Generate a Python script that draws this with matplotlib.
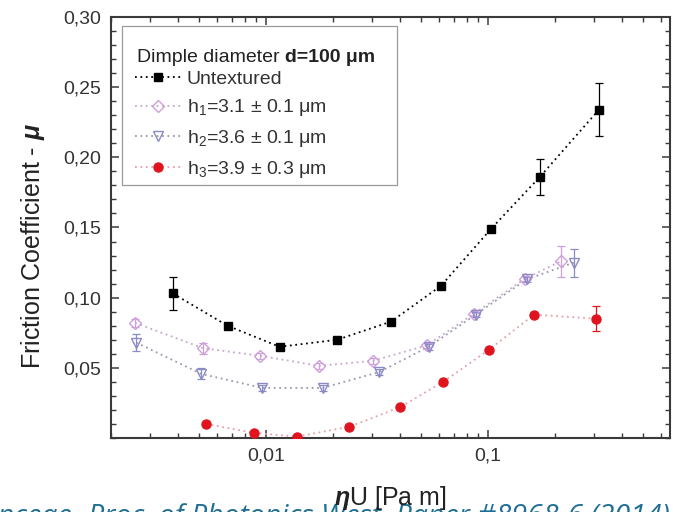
import matplotlib
matplotlib.use("Agg")
import matplotlib.pyplot as plt
from matplotlib.ticker import FixedLocator, FuncFormatter, LogLocator, NullFormatter, MultipleLocator
from matplotlib.lines import Line2D
from matplotlib.patches import Rectangle

# data
x_untex = [0.0038, 0.0067, 0.0115, 0.0209, 0.0366, 0.0614, 0.103, 0.171, 0.316]
mu_untex = [0.103, 0.080, 0.065, 0.070, 0.083, 0.1085, 0.149, 0.186, 0.234]
err_untex = [0.012, 0.002, 0.002, 0.002, 0.002, 0.002, 0.002, 0.013, 0.019]

x_h1 = [0.00257, 0.0052, 0.0094, 0.0173, 0.0303, 0.053, 0.0864, 0.147, 0.213]
mu_h1 = [0.082, 0.064, 0.0586, 0.0514, 0.055, 0.066, 0.0886, 0.1136, 0.126]
err_h1 = [0.003, 0.004, 0.002, 0.002, 0.002, 0.002, 0.002, 0.002, 0.011]

x_h2 = [0.0026, 0.0051, 0.0096, 0.018, 0.0323, 0.054, 0.088, 0.149, 0.244]
mu_h2 = [0.068, 0.0457, 0.0357, 0.0357, 0.047, 0.065, 0.088, 0.113, 0.125]
err_h2 = [0.006, 0.004, 0.002, 0.002, 0.002, 0.002, 0.002, 0.002, 0.010]

x_h3 = [0.00537, 0.00883, 0.0138, 0.0237, 0.0402, 0.0627, 0.101, 0.161, 0.306]
mu_h3 = [0.010, 0.0036, 0.001, 0.008, 0.022, 0.040, 0.0629, 0.0879, 0.085]
err_h3 = [0, 0, 0, 0, 0, 0, 0, 0, 0.009]

labels = ["Untextured",
          r"h$_1$=3.1 ± 0.1 μm",
          r"h$_2$=3.6 ± 0.1 μm",
          r"h$_3$=3.9 ± 0.3 μm"]
y_ticks = [0.05, 0.10, 0.15, 0.20, 0.25, 0.30]
x_ticks = [0.01, 0.1]

plt.rcParams['font.family'] = ['Liberation Sans', 'DejaVu Sans']
plt.rcParams['mathtext.fontset'] = 'custom'
plt.rcParams['mathtext.rm'] = 'Liberation Sans'
plt.rcParams['mathtext.it'] = 'Liberation Sans:italic'
plt.rcParams['mathtext.bf'] = 'Liberation Sans:bold'
plt.rcParams['mathtext.bfit'] = 'Liberation Sans:bold:italic'

W, H = 673, 512
fig = plt.figure(figsize=(6.73, 5.12), dpi=100)
ax = fig.add_axes([111 / W, (512 - 438) / H, 559 / W, 421 / H])

dot = (0, (1, 2))
series = [
    (x_untex, mu_untex, err_untex, dict(marker='s', ms=5.5, mfc='black', mec='black'), 'black', 'black'),
    (x_h1, mu_h1, err_h1, dict(marker='D', ms=6, mfc='none', mec='#cf9fdc', mew=1.0), '#c8a6cf', '#cf9fdc'),
    (x_h2, mu_h2, err_h2, dict(marker='v', ms=7, mfc='none', mec='#8a8ac4', mew=1.0), '#9a9aae', '#8a8ac4'),
    (x_h3, mu_h3, err_h3, dict(marker='o', ms=6.5, mfc='#e0141e', mec='#e0141e'), '#e5a0a8', '#e0141e'),
]
handles = []
for xs, ys, es, mk, lc, ec in series:
    ax.plot(xs, ys, linestyle=dot, color=lc, lw=1.3, zorder=2)
    ax.errorbar(xs, ys, yerr=es, fmt='none', ecolor=ec, elinewidth=0.9, capsize=3, capthick=0.9, zorder=3)
    ax.plot(xs, ys, linestyle='none', zorder=4, **mk)
    handles.append(Line2D([], [], linestyle=dot, color=lc, lw=1.3, **mk))

ax.set_xscale('log')
ax.set_xlim(0.002, 0.66)
ax.set_ylim(0.0, 0.30)

ax.yaxis.set_major_locator(FixedLocator(y_ticks))
ax.yaxis.set_minor_locator(MultipleLocator(0.01))
ax.yaxis.set_major_formatter(FuncFormatter(lambda v, p: ("%.2f" % v).replace('.', ',')))
ax.xaxis.set_major_locator(FixedLocator(x_ticks))
ax.xaxis.set_minor_locator(LogLocator(base=10, subs=range(2, 10)))
ax.xaxis.set_minor_formatter(NullFormatter())
ax.xaxis.set_major_formatter(FuncFormatter(lambda v, p: ("%g" % v).replace('.', ',')))

for s in ax.spines.values():
    s.set_color('#3a3a3a')
    s.set_linewidth(1.5)
ax.tick_params(which='both', direction='in', top=True, right=True, color='#3a3a3a')
ax.tick_params(which='major', length=6, width=1.1, labelsize=14, labelcolor='#333333', pad=7)
ax.tick_params(which='minor', length=3.5, width=1.0)

ax.set_ylabel(r"Friction Coefficient - $\boldsymbol{\mu}$", fontsize=18, color='#222222')
ax.yaxis.label.set_va('center')
ax.yaxis.set_label_coords(-0.1395, 0.456)
ax.set_xlabel(r"$\boldsymbol{\eta}$U [Pa m]", fontsize=18, color='#222222')
ax.xaxis.label.set_va('center')
ax.xaxis.set_label_coords(0.5, -0.1425)

leg = ax.legend(handles, labels, loc='upper left', bbox_to_anchor=((135 - 111) / 559, 1 - (70 - 17) / 421),
                frameon=False, fontsize=14, handlelength=2.4, handletextpad=0.25,
                labelspacing=0.5, borderpad=0, borderaxespad=0)
for t in leg.get_texts():
    t.set_color('#333333')

# legend heading: normal part, then bold part right after it
t1 = fig.text(137 / W, (512 - 57) / H, "Dimple diameter ", fontsize=14, color='#222222', va='center')
ax.annotate("d=100 μm", xy=(1, 0.5), xycoords=t1, va='center', ha='left',
            fontsize=14, fontweight='bold', color='#222222')

ax.add_patch(Rectangle((122 / W, (512 - 185) / H), (397 - 122) / W, (185 - 26) / H,
                       transform=fig.transFigure, fill=False, edgecolor='#9a9a9a', lw=0.9, zorder=1))

# caption strip cut off at the bottom of the picture
cap = dict(va='baseline', fontsize=20.5, family='Open Sans', style='italic', color='#1f6e96', zorder=-1)
fig.text(80 / W, -12 / H, "Lanceae,", ha='right', **cap)
fig.text(88 / W, -12 / H, "Proc. of Photonics West, Paper #8968-6 (2014)", ha='left', **cap)

fig.savefig('out.png', dpi=100)
